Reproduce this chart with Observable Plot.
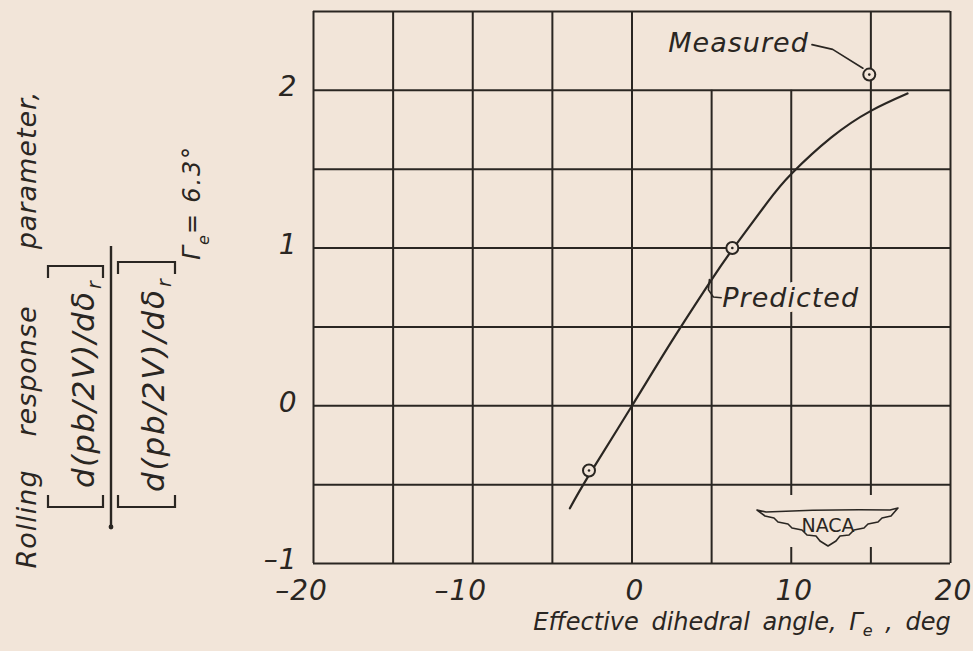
<!DOCTYPE html>
<html>
<head>
<meta charset="utf-8">
<script src="https://cdn.jsdelivr.net/npm/d3@7"></script>
<script src="https://cdn.jsdelivr.net/npm/@observablehq/plot@0.6"></script>
<style>
  html, body { margin: 0; padding: 0; background: #f2e5d9; }
  #chart svg { display: block; }
  #chart svg text { font-style: italic; letter-spacing: 1px; }
</style>
</head>
<body>
<div id="chart"></div>
<script>
// ---- data ----
const gridX = [-20, -15, -10, -5, 0, 5, 10, 15, 20];
const gridXTop = [2.5, 2.5, 2.5, 2.5, 2.5, 2, 2, 2.5, 2.5];
const gridY = [-1, -0.5, 0, 0.5, 1, 1.5, 2, 2.5];
const xTicks = [-20, -10, 0, 10, 20];
const yTicks = [-1, 0, 1, 2];

const predX = [-3.9, -2.7, 0, 2.5, 5, 6.3, 8.5, 10, 12.5, 15, 17.3];
const predY = [-0.65, -0.44, 0, 0.41, 0.80, 0.99, 1.29, 1.47, 1.70, 1.87, 1.98];

const measX = [-2.7, 6.3, 14.9];
const measY = [-0.41, 1.0, 2.1];

const labelText = ["Measured", "Predicted"];
const labelX = [11.1, 5.67];
const labelY = [2.3, 0.68];
const measLeaderX = [11.3, 12.6, 14.5];
const measLeaderY = [2.29, 2.26, 2.14];
const predLeaderX = [4.86, 4.8, 5.11, 5.6];
const predLeaderY = [0.80, 0.735, 0.69, 0.685];

// ---- styling ----
const ink = "#2a2622";
const bg = "#f2e5d9";
const font = "DejaVu Sans";
const fmt = d => d < 0 ? "\u2013" + Math.abs(d) : String(d);

const pred = predX.map((x, i) => ({x, y: predY[i]}));
const meas = measX.map((x, i) => ({x, y: measY[i]}));
const vgrid = gridX.map((x, i) => ({x, top: gridXTop[i]}));
const measLeader = measLeaderX.map((x, i) => ({x, y: measLeaderY[i]}));
const predLeader = predLeaderX.map((x, i) => ({x, y: predLeaderY[i]}));

const chart = Plot.plot({
  width: 973,
  height: 651,
  marginLeft: 313,
  marginRight: 23,
  marginTop: 11,
  marginBottom: 88,
  x: {domain: [-20, 20]},
  y: {domain: [-1, 2.5]},
  style: {background: bg, color: ink, fontFamily: font},
  marks: [
    Plot.ruleX(vgrid, {x: "x", y1: -1, y2: "top", stroke: ink, strokeWidth: 2}),
    Plot.ruleY(gridY, {y: d => d, stroke: ink, strokeWidth: 2}),
    Plot.text([labelText[1]], {x: labelX[1], y: labelY[1], text: d => d, textAnchor: "start",
      fontSize: 27, fill: ink, stroke: bg, strokeWidth: 10, paintOrder: "stroke"}),
    Plot.text([labelText[0]], {x: labelX[0], y: labelY[0], text: d => d, textAnchor: "end",
      fontSize: 27, fill: ink}),
    Plot.line(pred, {x: "x", y: "y", curve: "natural", stroke: ink, strokeWidth: 2.2}),
    Plot.line(measLeader, {x: "x", y: "y", stroke: ink, strokeWidth: 1.6}),
    Plot.line(predLeader, {x: "x", y: "y", stroke: ink, strokeWidth: 1.6}),
    Plot.dot(meas, {x: "x", y: "y", r: 6, fill: bg, stroke: ink, strokeWidth: 2}),
    Plot.dot(meas, {x: "x", y: "y", r: 1.3, fill: ink}),
    Plot.axisX(xTicks.filter(d => d < 0), {tickSize: 0, tickPadding: 17, fontSize: 28, dx: -12, label: null, tickFormat: fmt}),
    Plot.axisX(xTicks.filter(d => d >= 0), {tickSize: 0, tickPadding: 17, fontSize: 28, dx: 3, label: null, tickFormat: fmt}),
    Plot.axisY(yTicks, {tickSize: 0, tickPadding: 16, fontSize: 28, dy: -3, label: null, tickFormat: fmt})
  ]
});
document.getElementById("chart").appendChild(chart);

const svg = d3.select(chart);

// NACA logo (decoration)
const logo = svg.append("g").attr("transform", "translate(828,525)");
logo.append("rect").attr("x", -58).attr("y", -30).attr("width", 116).attr("height", 52).attr("fill", bg);
logo.append("path")
  .attr("d", "M-71,-15 L-62,-13 Q0,-16 62,-15 L70,-17 L63,-9 L54,-7 L50,-3 L40,-1 L36,3 L26,5 L21,10 L12,11 L8,16 L0,21 L-8,16 L-12,11 L-21,10 L-26,5 L-36,3 L-40,-1 L-50,-3 L-54,-7 L-63,-9 Z")
  .attr("fill", bg).attr("stroke", ink).attr("stroke-width", 1.6).attr("stroke-linejoin", "round");
logo.append("text").attr("x", 0).attr("y", 0).attr("text-anchor", "middle").attr("dominant-baseline", "central")
  .attr("font-size", 19).attr("fill", ink).style("font-style", "normal").style("letter-spacing", "0px").text("NACA");

// x-axis title
const xt = svg.append("text").attr("x", 742).attr("y", 630).attr("text-anchor", "middle")
  .attr("font-size", 24).attr("fill", ink).style("letter-spacing", "0px").style("word-spacing", "5px");
xt.append("tspan").text("Effective dihedral angle, \u0393");
xt.append("tspan").attr("dy", 6).attr("font-size", 16).text("e");
xt.append("tspan").attr("dy", -6).text(" , deg");

// y-axis title (rotated; u = -pageY, v = pageX)
const yt = svg.append("g").attr("transform", "rotate(-90)").attr("fill", ink);
function ctext(uc, v, size, str) {
  return yt.append("text").attr("x", uc).attr("y", v).attr("text-anchor", "middle")
    .attr("font-size", size).text(str);
}
function rtext(u0, u1, v, size, str) {
  return yt.append("text").attr("x", u0).attr("y", v).attr("text-anchor", "start")
    .attr("font-size", size).attr("textLength", u1 - u0).attr("lengthAdjust", "spacing").text(str);
}
ctext(-519, 36, 27, "Rolling");
ctext(-371, 36, 27, "response");
ctext(-170, 36, 27, "parameter,");

function fracPart(u0, u1, v) {
  rtext(u0, u1 - 14, v, 31, "d(pb/2V)/d\u03b4");
  yt.append("text").attr("x", u1 - 12).attr("y", v + 7).attr("text-anchor", "start")
    .attr("font-size", 19).text("r");
}
function brackets(u0, u1, v0, v1) {
  yt.append("path").attr("d", `M${u0 + 12},${v0} L${u0},${v0} L${u0},${v1} L${u0 + 12},${v1}`)
    .attr("fill", "none").attr("stroke", ink).attr("stroke-width", 2.2);
  yt.append("path").attr("d", `M${u1 - 12},${v0} L${u1},${v0} L${u1},${v1} L${u1 - 12},${v1}`)
    .attr("fill", "none").attr("stroke", ink).attr("stroke-width", 2.2);
}
fracPart(-488, -277, 94);
brackets(-507, -266, 48, 103);
yt.append("line").attr("x1", -527).attr("x2", -246).attr("y1", 111).attr("y2", 111)
  .attr("stroke", ink).attr("stroke-width", 2.4);
yt.append("circle").attr("cx", -527).attr("cy", 111).attr("r", 2.4).attr("fill", ink);
fracPart(-492, -275, 164);
brackets(-507, -262, 118, 175);
yt.append("text").attr("x", -260).attr("y", 200).attr("text-anchor", "start").attr("font-size", 25).text("\u0393");
yt.append("text").attr("x", -245).attr("y", 209).attr("text-anchor", "start").attr("font-size", 16).text("e");
rtext(-234, -146, 200, 24, "= 6.3\u00b0");
</script>
</body>
</html>
